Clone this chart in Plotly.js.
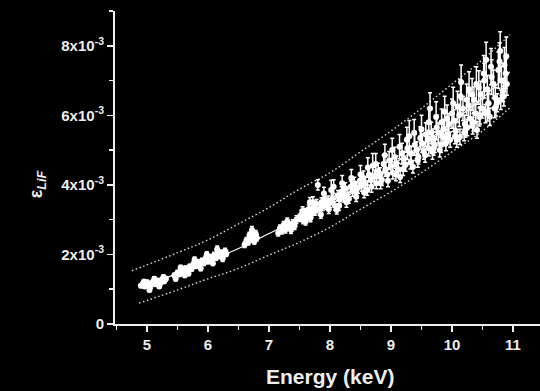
<!DOCTYPE html>
<html>
<head>
<meta charset="utf-8">
<script src="https://cdn.plot.ly/plotly-3.0.1.min.js"></script>
<style>html,body{margin:0;padding:0;background:#000;}#chart{width:540px;height:391px;}</style>
</head>
<body>
<div id="chart"></div>
<script>
// Measured points (energy keV, epsilon x1e-3, error x1e-3)
const energy = [
4.90,4.93,4.96,5.00,5.02,5.05,5.08,5.10,5.13,5.16,5.19,5.22,5.25,5.28,5.31,
4.95,5.04,5.12,5.20,5.27,
5.45,5.50,5.53,5.57,5.60,5.63,5.66,5.70,5.73,5.76,5.80,5.83,5.86,5.90,5.93,5.96,6.00,6.03,6.06,6.10,6.13,6.16,6.19,6.22,6.25,6.28,6.30,
5.47,5.55,5.62,5.68,5.78,5.88,5.98,6.08,6.15,6.24,
6.60,6.63,6.66,6.68,6.70,6.72,6.74,6.76,6.78,6.80,
7.15,7.18,7.21,7.24,7.27,7.30,7.33,7.36,7.39,7.42,7.45,
7.50,7.53,7.56,7.59,7.62,7.65,7.67,7.70,7.73,7.76,7.78,7.80,7.83,7.86,7.88,7.91,7.94,7.97,
8.00,8.02,8.05,8.08,8.11,8.13,8.16,8.19,8.22,8.25,8.28,8.31,8.34,8.37,8.40,8.43,8.46,8.49,
8.52,8.55,8.58,8.61,8.64,8.67,8.70,8.73,8.76,8.79,8.82,8.85,8.88,8.91,8.94,8.97,
9.00,9.03,9.06,9.09,9.12,9.15,9.18,9.21,9.24,9.27,9.30,9.33,9.36,9.39,9.42,9.45,9.48,
9.51,9.54,9.57,9.60,9.62,9.64,9.66,9.69,9.72,9.75,9.78,9.80,9.83,9.86,9.89,9.92,9.95,9.97,
10.00,10.03,10.06,10.09,10.12,10.13,10.15,10.18,10.21,10.24,10.27,10.30,10.33,10.36,10.39,10.41,10.44,10.47,
10.50,10.53,10.56,10.58,10.60,10.62,10.65,10.68,10.71,10.74,10.76,10.79,10.81,10.84,10.86,10.88,10.90,
9.70,9.85,9.90,10.05,10.20,10.25,10.35,10.45,10.55,10.70,10.80,9.69,
7.55,7.60,7.68,7.72,7.85,7.90,7.98,8.06,8.15,8.20,8.27,8.35,8.42,8.50,8.56,8.62,8.68,8.75,8.83,8.90,
8.95,9.02,9.08,9.14,9.20,9.26,9.32,9.38,9.44,9.50,9.56,9.62,9.68,9.74,9.82,9.88,9.94,10.02,10.08,10.14,
10.22,10.28,10.34,10.40,10.46,10.52,10.58,10.64,10.72,10.78,10.85,10.89
];
const epsilon = [
1.10,1.15,1.08,1.20,1.12,1.05,1.18,1.22,1.14,1.20,1.25,1.18,1.28,1.22,1.30,
1.22,0.98,1.30,1.08,1.35,
1.40,1.48,1.42,1.55,1.50,1.60,1.52,1.65,1.58,1.72,1.66,1.78,1.70,1.82,1.75,1.88,1.80,1.92,1.85,1.98,1.90,2.02,1.95,2.05,1.98,2.10,2.02,
1.30,1.62,1.40,1.45,1.85,1.60,2.00,1.75,2.15,1.88,
2.28,2.40,2.35,2.55,2.45,2.70,2.50,2.38,2.60,2.48,
2.62,2.75,2.68,2.85,2.72,2.95,2.80,2.70,2.90,2.82,3.00,
3.05,3.15,2.98,3.20,3.10,3.30,3.50,3.18,3.35,3.25,3.45,4.00,3.30,3.50,3.38,3.60,3.42,3.55,
3.48,3.85,3.62,3.40,3.28,3.70,3.58,3.80,3.65,3.90,3.72,3.60,3.95,3.82,4.05,3.66,3.92,4.12,
3.98,4.20,4.05,3.85,4.30,4.15,4.55,4.25,4.05,4.40,4.30,4.15,4.60,4.45,4.30,4.70,
4.55,4.35,4.80,4.62,4.45,4.23,4.90,4.75,4.58,5.05,5.40,4.90,4.52,5.15,5.00,4.80,5.35,
5.20,4.95,5.45,5.30,5.05,6.20,5.50,5.35,5.15,5.65,5.50,5.00,5.80,5.60,5.35,5.90,5.75,5.30,
6.05,5.85,5.55,6.25,6.00,5.38,6.95,6.20,5.75,6.45,6.30,5.90,6.60,6.45,6.05,5.58,6.80,6.60,
6.20,7.00,7.60,6.75,6.35,5.96,7.10,6.90,6.50,6.36,7.30,7.85,7.00,6.70,7.45,7.20,6.90,
5.05,5.40,5.20,5.40,5.50,5.65,5.80,5.95,6.05,6.20,6.45,5.30,
3.25,2.95,3.05,3.50,3.15,3.75,3.30,3.95,3.40,4.05,3.50,4.20,3.80,4.30,3.78,4.50,3.95,4.60,4.05,4.85,
4.12,5.00,4.30,5.10,4.45,5.30,4.65,5.50,4.70,5.60,4.85,5.80,4.95,5.95,5.15,6.10,5.45,6.35,5.30,6.55,
5.60,6.75,5.70,6.90,6.00,7.20,6.10,7.40,6.25,7.55,6.55,7.70
];
const epsErr = [
0.05,0.05,0.05,0.06,0.05,0.05,0.06,0.05,0.05,0.06,0.05,0.05,0.06,0.05,0.06,
0.05,0.05,0.06,0.05,0.06,
0.06,0.06,0.05,0.06,0.06,0.07,0.06,0.07,0.06,0.07,0.06,0.07,0.06,0.07,0.07,0.08,0.07,0.08,0.07,0.08,0.07,0.08,0.07,0.08,0.08,0.08,0.08,
0.06,0.07,0.06,0.06,0.08,0.07,0.08,0.07,0.09,0.08,
0.08,0.09,0.08,0.09,0.09,0.10,0.09,0.09,0.09,0.09,
0.09,0.10,0.09,0.10,0.10,0.10,0.10,0.10,0.10,0.10,0.11,
0.10,0.12,0.10,0.12,0.11,0.12,0.14,0.11,0.12,0.12,0.13,0.15,0.12,0.13,0.12,0.14,0.12,0.13,
0.13,0.28,0.13,0.12,0.12,0.14,0.13,0.15,0.14,0.16,0.14,0.13,0.16,0.15,0.17,0.14,0.16,0.18,
0.16,0.20,0.17,0.15,0.22,0.18,0.35,0.18,0.16,0.22,0.19,0.17,0.25,0.20,0.18,0.26,
0.20,0.18,0.28,0.21,0.18,0.16,0.30,0.22,0.19,0.32,0.45,0.22,0.18,0.30,0.24,0.20,0.32,
0.26,0.21,0.34,0.27,0.22,0.45,0.30,0.26,0.22,0.36,0.28,0.20,0.38,0.29,0.23,0.40,0.30,0.22,
0.42,0.31,0.24,0.44,0.32,0.22,0.50,0.35,0.25,0.45,0.36,0.26,0.46,0.37,0.27,0.24,0.48,0.38,
0.28,0.50,0.50,0.40,0.28,0.25,0.50,0.40,0.30,0.26,0.52,0.55,0.42,0.30,0.50,0.42,0.32,
0.20,0.22,0.22,0.22,0.23,0.24,0.25,0.26,0.26,0.27,0.28,0.22,
0.12,0.10,0.11,0.16,0.11,0.18,0.12,0.20,0.13,0.22,0.14,0.24,0.15,0.26,0.15,0.28,0.16,0.30,0.16,0.32,
0.17,0.34,0.18,0.35,0.18,0.36,0.19,0.38,0.19,0.40,0.20,0.42,0.21,0.44,0.22,0.45,0.23,0.46,0.22,0.48,
0.23,0.50,0.24,0.50,0.25,0.52,0.26,0.52,0.27,0.54,0.28,0.55
];
// Fit curve and confidence bounds (x1e-3)
const fitX = [4.90,5.50,6.00,6.50,7.00,7.50,8.00,8.50,9.00,9.50,10.00,10.50,10.95];
const fitY = [1.08,1.45,1.80,2.17,2.60,3.03,3.50,4.00,4.55,5.15,5.80,6.50,7.25];
const upperX = [4.75,5.50,6.00,6.50,7.00,7.50,8.00,8.50,9.00,9.50,10.00,10.50,10.95];
const upperY = [1.53,2.05,2.42,2.88,3.35,3.88,4.35,4.95,5.55,6.20,6.90,7.60,8.32];
const lowerX = [4.87,5.50,6.00,6.50,7.00,7.50,8.00,8.50,9.00,9.50,10.00,10.50,10.95];
const lowerY = [0.60,0.98,1.30,1.60,1.98,2.35,2.78,3.30,3.80,4.35,4.95,5.55,6.22];
const yTickVals = [0, 2e-3, 4e-3, 6e-3, 8e-3];
const yTickText = ['0','2x10<sup>-3</sup>','4x10<sup>-3</sup>','6x10<sup>-3</sup>','8x10<sup>-3</sup>'];
const xTickVals = [5,6,7,8,9,10,11];

const s = v => v.map(a => a*1e-3);
const fg = '#eeeeee';
const traces = [
  {x: upperX, y: s(upperY), mode:'lines', line:{color:'#d8d8d8', width:1.4, dash:'1.5px,2.5px', shape:'spline'}, hoverinfo:'skip'},
  {x: lowerX, y: s(lowerY), mode:'lines', line:{color:'#d8d8d8', width:1.4, dash:'1.5px,2.5px', shape:'spline'}, hoverinfo:'skip'},
  {x: fitX, y: s(fitY), mode:'lines', line:{color:'#ffffff', width:1.2, shape:'spline'}},
  {x: energy, y: s(epsilon), mode:'markers', marker:{color:'#ffffff', size:6},
   error_y:{type:'data', array:s(epsErr), visible:true, color:'#ffffff', thickness:1.5, width:2}}
];
const font = {family:'Liberation Sans, Arial, sans-serif', color:fg, size:15, weight:'bold'};
const layout = {
  width:540, height:391,
  margin:{l:115, r:0, t:11, b:67},
  paper_bgcolor:'#000', plot_bgcolor:'#000',
  showlegend:false,
  font: font,
  xaxis:{range:[4.475,11.443], tickmode:'array', tickvals:xTickVals, ticks:'outside', ticklen:6, tickwidth:1.5,
    tickcolor:fg, showline:true, linecolor:fg, linewidth:2, showgrid:false, zeroline:false, tickfont:font,
    minor:{tickmode:'linear', tick0:4.5, dtick:0.5, ticks:'outside', ticklen:4, tickwidth:1.5, tickcolor:fg, showgrid:false}},
  yaxis:{range:[0,9.0e-3], tickmode:'array', tickvals:yTickVals, ticktext:yTickText, ticks:'outside', ticklen:6, tickwidth:1.5,
    tickcolor:fg, showline:true, linecolor:fg, linewidth:2, showgrid:false, zeroline:false, tickfont:font,
    minor:{tickmode:'linear', tick0:0, dtick:1e-3, ticks:'outside', ticklen:4, tickwidth:1.5, tickcolor:fg, showgrid:false}},
  annotations:[
    {text:'Energy (keV)', xref:'paper', yref:'paper', x:0.506, y:-0.169, xanchor:'center', yanchor:'middle',
     showarrow:false, font:{family:'Liberation Sans, Arial, sans-serif', size:21, color:fg, weight:'bold'}},
    {text:'ε<sub><i>LiF</i></sub>', xref:'paper', yref:'paper', x:-0.183, y:0.447, xanchor:'center', yanchor:'middle',
     textangle:-90, showarrow:false, font:{family:'Liberation Sans, Arial, sans-serif', size:18, color:fg, weight:'bold'}}
  ]
};
Plotly.newPlot('chart', traces, layout, {displayModeBar:false, staticPlot:true});
</script>
</body>
</html>
